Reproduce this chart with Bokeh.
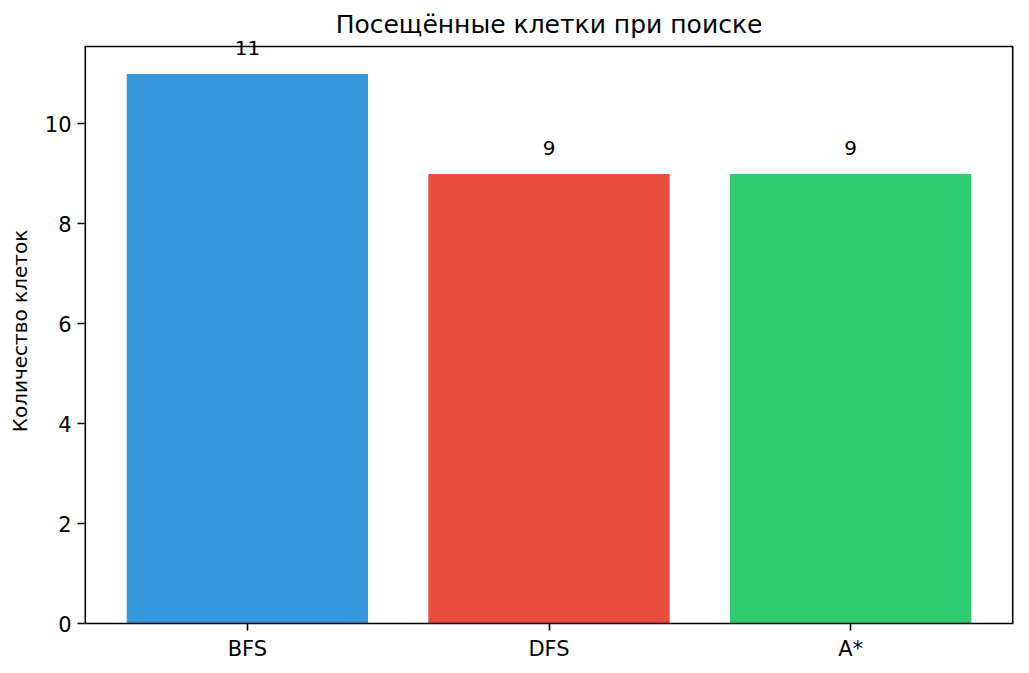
from bokeh.plotting import figure
from bokeh.models import Range1d, FixedTicker, ColumnDataSource, Label
from bokeh.embed import file_html
from bokeh.resources import INLINE

categories = ["BFS", "DFS", "A*"]
visited = [11, 9, 9]
colors = ["#3498db", "#e74c3c", "#2ecc71"]
y_ticks = [0, 2, 4, 6, 8, 10]

# axis limits (matplotlib-style auto limits)
x_lo, x_hi = -0.54, 2.54
y_top = 11.55
y_room = 11.71  # extra room above the top spine so the value label is not clipped

xs = list(range(len(categories)))
src = ColumnDataSource(dict(x=xs, top=visited, color=colors))

FONT = "DejaVu Sans"
p = figure(width=1029, height=673, output_backend="svg", toolbar_location=None,
           x_range=Range1d(x_lo, x_hi), y_range=Range1d(0, y_room),
           title="Посещённые клетки при поиске",
           min_border_left=84, min_border_right=16, min_border_top=38, min_border_bottom=50)
p.vbar(x="x", top="top", width=0.8, bottom=0, color="color", source=src, line_color=None)

# spines: top (full), left/right (half clipped at frame edge -> double width)
p.segment(x0=[x_lo], y0=[y_top], x1=[x_hi], y1=[y_top], line_color="black", line_width=1.6)
p.segment(x0=[x_lo, x_hi], y0=[0, 0], x1=[x_lo, x_hi], y1=[y_top, y_top],
          line_color="black", line_width=3.2)

for xi, v in zip(xs, visited):
    p.add_layout(Label(x=xi, y=v + 0.38, text=str(v), text_align="center",
                       text_baseline="bottom", text_font=FONT, text_font_size="20px",
                       text_color="black"))

p.title.align = "center"
p.title.text_font = FONT
p.title.text_font_size = "25px"
p.title.text_font_style = "normal"
p.title.text_color = "black"
p.title.offset = 0
p.title.standoff = 0

p.xaxis.ticker = FixedTicker(ticks=xs)
p.xaxis.major_label_overrides = {i: c for i, c in enumerate(categories)}
p.yaxis.ticker = FixedTicker(ticks=y_ticks)
p.yaxis.axis_label = "Количество клеток"
for ax in (p.xaxis, p.yaxis):
    ax.major_label_text_font = FONT
    ax.major_label_text_font_size = "21px"
    ax.major_label_text_color = "black"
    ax.major_label_standoff = 6
    ax.major_tick_in = 0
    ax.major_tick_out = 7
    ax.major_tick_line_width = 1.6
    ax.minor_tick_line_color = None
    ax.axis_line_color = "black"
    ax.axis_line_width = 1.6
    ax.major_tick_line_color = "black"
    ax.axis_label_text_font = FONT
    ax.axis_label_text_font_size = "20px"
    ax.axis_label_text_font_style = "normal"
    ax.axis_label_text_color = "black"
    ax.axis_label_standoff = 10
p.yaxis.axis_line_color = None
p.xgrid.grid_line_color = None
p.ygrid.grid_line_color = None
p.outline_line_color = None
p.background_fill_color = "white"
p.border_fill_color = "white"

open("out.html", "w").write(file_html(p, INLINE))
